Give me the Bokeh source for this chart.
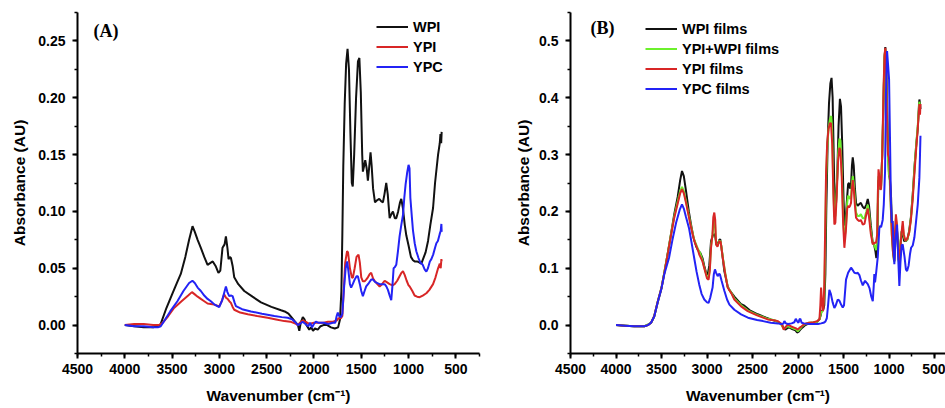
from bokeh.plotting import figure
from bokeh.models import Range1d, FixedTicker, NumeralTickFormatter, Legend, LegendItem, Label
from bokeh.layouts import row
from bokeh.embed import file_html
from bokeh.resources import INLINE

# ---------------- Panel (A): powders, (wavenumber, absorbance) ----------------
a_wpi = [(4000, 0.000), (3900, -0.001), (3800, -0.002), (3700, -0.002), (3650, -0.001), (3620, 0.001),
         (3560, 0.015), (3500, 0.027), (3450, 0.037), (3408, 0.045), (3360, 0.060), (3320, 0.075),
         (3284, 0.087), (3260, 0.082), (3230, 0.075), (3196, 0.068), (3160, 0.060), (3125, 0.053),
         (3090, 0.055), (3070, 0.056), (3040, 0.052), (3010, 0.046), (2990, 0.048), (2967, 0.068),
         (2945, 0.071), (2931, 0.078), (2915, 0.068), (2903, 0.058), (2890, 0.060), (2878, 0.059),
         (2860, 0.052), (2843, 0.042), (2800, 0.036), (2737, 0.030), (2650, 0.025), (2560, 0.020),
         (2450, 0.016), (2348, 0.013), (2310, 0.012), (2270, 0.010), (2230, 0.006), (2190, 0.002),
         (2170, 0.000), (2155, -0.005), (2140, 0.002), (2118, 0.007), (2100, 0.005), (2080, 0.000),
         (2050, -0.004), (2030, -0.002), (2010, -0.005), (1990, -0.003), (1960, -0.004), (1930, -0.001),
         (1900, 0.000), (1860, 0.000), (1820, -0.002), (1780, -0.003), (1745, -0.002), (1725, 0.005),
         (1710, 0.030), (1700, 0.080), (1690, 0.140), (1675, 0.195), (1660, 0.230), (1645, 0.243),
         (1630, 0.225), (1615, 0.170), (1600, 0.125), (1590, 0.122), (1575, 0.150), (1555, 0.200),
         (1535, 0.232), (1520, 0.235), (1505, 0.205), (1490, 0.150), (1483, 0.135), (1470, 0.140),
         (1458, 0.145), (1443, 0.138), (1430, 0.127), (1415, 0.140), (1402, 0.152), (1390, 0.140),
         (1375, 0.120), (1355, 0.108), (1330, 0.110), (1310, 0.111), (1290, 0.109), (1271, 0.108),
         (1255, 0.115), (1236, 0.125), (1220, 0.115), (1200, 0.094), (1185, 0.097), (1165, 0.100),
         (1145, 0.094), (1130, 0.094), (1110, 0.100), (1090, 0.108), (1077, 0.111), (1060, 0.103),
         (1040, 0.088), (1024, 0.079), (1000, 0.070), (975, 0.060), (953, 0.057), (936, 0.056),
         (910, 0.056), (883, 0.055), (865, 0.054), (847, 0.058), (820, 0.064), (794, 0.074),
         (770, 0.088), (741, 0.103), (720, 0.125), (706, 0.136), (688, 0.150), (670, 0.160),
         (663, 0.168), (655, 0.160), (650, 0.170)]

a_ypi = [(4000, 0.000), (3900, 0.001), (3800, 0.001), (3700, 0.000), (3640, 0.000), (3600, 0.002),
         (3540, 0.008), (3479, 0.015), (3400, 0.021), (3330, 0.026), (3290, 0.029), (3260, 0.027),
         (3230, 0.025), (3196, 0.023), (3160, 0.021), (3125, 0.019), (3090, 0.0185), (3055, 0.018),
         (3020, 0.017), (3002, 0.0165), (2975, 0.021), (2949, 0.027), (2930, 0.024), (2913, 0.023),
         (2895, 0.021), (2878, 0.0195), (2860, 0.016), (2843, 0.0135), (2780, 0.011), (2700, 0.0095),
         (2600, 0.008), (2490, 0.0065), (2400, 0.005), (2313, 0.0035), (2250, 0.003), (2190, 0.001),
         (2170, 0.000), (2150, 0.002), (2120, 0.004), (2090, 0.003), (2050, 0.001), (2000, 0.002),
         (1950, 0.002), (1900, 0.002), (1850, 0.003), (1800, 0.003), (1760, 0.004), (1740, 0.006),
         (1715, 0.006), (1700, 0.008), (1685, 0.030), (1670, 0.055), (1650, 0.065), (1640, 0.064),
         (1620, 0.050), (1600, 0.042), (1589, 0.0415), (1570, 0.050), (1550, 0.060), (1529, 0.062),
         (1515, 0.055), (1500, 0.042), (1483, 0.0385), (1465, 0.0385), (1448, 0.040), (1430, 0.042),
         (1410, 0.045), (1395, 0.046), (1375, 0.041), (1359, 0.039), (1330, 0.036), (1306, 0.034),
         (1280, 0.036), (1253, 0.039), (1235, 0.038), (1200, 0.036), (1170, 0.035), (1147, 0.036),
         (1120, 0.039), (1095, 0.043), (1075, 0.046), (1059, 0.0475), (1040, 0.044), (1020, 0.039),
         (1000, 0.035), (988, 0.034), (960, 0.030), (936, 0.026), (910, 0.025), (883, 0.0245),
         (850, 0.026), (812, 0.028), (780, 0.031), (741, 0.036), (715, 0.042), (688, 0.050),
         (670, 0.054), (660, 0.050), (653, 0.058), (650, 0.056)]

a_ypc = [(4000, 0.000), (3900, -0.001), (3800, -0.001), (3700, -0.002), (3650, -0.002), (3620, -0.001),
         (3580, 0.004), (3520, 0.012), (3444, 0.021), (3380, 0.030), (3320, 0.037), (3285, 0.039),
         (3260, 0.037), (3230, 0.033), (3196, 0.030), (3160, 0.026), (3125, 0.023), (3090, 0.021),
         (3050, 0.018), (3002, 0.0158), (2970, 0.022), (2931, 0.034), (2915, 0.029), (2896, 0.0255),
         (2878, 0.026), (2860, 0.0255), (2840, 0.020), (2825, 0.0167), (2760, 0.014), (2666, 0.012),
         (2550, 0.010), (2419, 0.008), (2340, 0.007), (2278, 0.0065), (2230, 0.005), (2190, 0.002),
         (2170, 0.000), (2150, 0.001), (2120, 0.003), (2090, 0.001), (2060, -0.001), (2040, 0.002),
         (2020, -0.002), (2000, 0.001), (1980, 0.003), (1950, 0.002), (1900, 0.002), (1850, 0.001),
         (1800, 0.002), (1775, 0.002), (1760, 0.008), (1748, 0.011), (1735, 0.008), (1715, 0.007),
         (1700, 0.010), (1685, 0.030), (1665, 0.050), (1649, 0.056), (1635, 0.047), (1620, 0.036),
         (1607, 0.033), (1590, 0.036), (1570, 0.040), (1550, 0.043), (1536, 0.043), (1515, 0.036),
         (1500, 0.030), (1483, 0.0255), (1465, 0.030), (1448, 0.034), (1420, 0.037), (1395, 0.040),
         (1375, 0.040), (1355, 0.038), (1330, 0.037), (1306, 0.036), (1280, 0.036), (1253, 0.036),
         (1235, 0.034), (1218, 0.031), (1200, 0.026), (1183, 0.022), (1170, 0.035), (1158, 0.050),
         (1145, 0.051), (1130, 0.053), (1112, 0.065), (1095, 0.078), (1077, 0.088), (1059, 0.097),
         (1045, 0.112), (1031, 0.124), (1015, 0.134), (1000, 0.141), (990, 0.138), (981, 0.112),
         (965, 0.095), (953, 0.083), (935, 0.072), (918, 0.065), (895, 0.059), (875, 0.055),
         (850, 0.053), (830, 0.049), (812, 0.047), (795, 0.050), (775, 0.056), (759, 0.058),
         (740, 0.062), (720, 0.068), (706, 0.072), (690, 0.074), (671, 0.080), (660, 0.083),
         (653, 0.089), (650, 0.082)]

# ---------------- Panel (B): films ----------------
b_wpi = [(4000, 0.000), (3900, -0.001), (3800, -0.002), (3689, -0.002), (3650, 0.000), (3615, 0.004),
         (3580, 0.015), (3542, 0.040), (3500, 0.065), (3469, 0.092), (3430, 0.128), (3396, 0.160),
         (3360, 0.195), (3322, 0.226), (3295, 0.255), (3275, 0.271), (3255, 0.262), (3231, 0.236),
         (3200, 0.200), (3176, 0.177), (3150, 0.155), (3121, 0.139), (3100, 0.132), (3074, 0.127),
         (3050, 0.118), (3030, 0.104), (3010, 0.092), (2992, 0.089), (2975, 0.105), (2956, 0.148),
         (2935, 0.158), (2915, 0.160), (2895, 0.142), (2882, 0.142), (2865, 0.150), (2855, 0.151),
         (2840, 0.135), (2810, 0.095), (2773, 0.068), (2755, 0.062), (2700, 0.050), (2626, 0.037),
         (2590, 0.034), (2530, 0.026), (2443, 0.019), (2350, 0.013), (2300, 0.010), (2230, 0.006),
         (2187, 0.002), (2160, -0.004), (2140, -0.008), (2125, -0.006), (2100, -0.004), (2077, -0.006),
         (2050, -0.008), (2030, -0.009), (2011, -0.013), (1995, -0.012), (1975, -0.008), (1950, -0.004),
         (1920, 0.000), (1880, 0.003), (1830, 0.004), (1790, 0.006), (1765, 0.010), (1750, 0.018),
         (1740, 0.025), (1725, 0.026), (1712, 0.035), (1700, 0.090), (1690, 0.200), (1675, 0.320),
         (1660, 0.390), (1645, 0.425), (1632, 0.435), (1620, 0.400), (1605, 0.270), (1595, 0.210),
         (1585, 0.205), (1570, 0.260), (1555, 0.350), (1540, 0.398), (1528, 0.385), (1515, 0.320),
         (1500, 0.220), (1490, 0.180), (1480, 0.175), (1465, 0.215), (1450, 0.248), (1440, 0.250),
         (1428, 0.240), (1418, 0.245), (1408, 0.280), (1399, 0.295), (1388, 0.280), (1375, 0.240),
         (1363, 0.215), (1345, 0.210), (1326, 0.213), (1310, 0.215), (1289, 0.208), (1270, 0.205),
         (1250, 0.212), (1234, 0.222), (1220, 0.210), (1200, 0.175), (1180, 0.145), (1165, 0.142),
         (1150, 0.130), (1140, 0.118), (1130, 0.135), (1118, 0.255), (1108, 0.245), (1098, 0.240),
         (1088, 0.245), (1075, 0.300), (1060, 0.400), (1050, 0.470), (1041, 0.489), (1032, 0.460),
         (1020, 0.380), (1010, 0.300), (1000, 0.265), (990, 0.255), (978, 0.225), (965, 0.160),
         (955, 0.130), (942, 0.112), (932, 0.150), (923, 0.180), (912, 0.165), (900, 0.140),
         (887, 0.110), (875, 0.140), (862, 0.165), (850, 0.160), (835, 0.148), (815, 0.148),
         (800, 0.150), (780, 0.165), (760, 0.190), (740, 0.230), (720, 0.280), (700, 0.320),
         (685, 0.345), (672, 0.385), (667, 0.397), (660, 0.390), (655, 0.380)]

b_mix = [(4000, 0.000), (3800, -0.002), (3689, -0.002), (3615, 0.004), (3580, 0.016), (3542, 0.041),
         (3500, 0.066), (3430, 0.128), (3396, 0.160), (3360, 0.191), (3322, 0.218), (3295, 0.236),
         (3275, 0.243), (3255, 0.236), (3231, 0.218), (3200, 0.193), (3176, 0.174), (3140, 0.150),
         (3100, 0.134), (3074, 0.126), (3050, 0.114), (3030, 0.101), (3000, 0.085), (2983, 0.083),
         (2970, 0.098), (2956, 0.140), (2940, 0.158), (2925, 0.185), (2915, 0.188), (2901, 0.142),
         (2885, 0.140), (2865, 0.149), (2850, 0.147), (2827, 0.120), (2800, 0.092), (2773, 0.067),
         (2730, 0.056), (2700, 0.047), (2626, 0.035), (2553, 0.026), (2450, 0.018), (2333, 0.011),
         (2250, 0.008), (2187, 0.002), (2157, -0.007), (2140, -0.005), (2113, -0.002), (2080, -0.004),
         (2050, -0.006), (2020, -0.008), (2003, -0.011), (1985, -0.008), (1960, -0.003), (1930, 0.001),
         (1880, 0.004), (1830, 0.005), (1790, 0.006), (1765, 0.010), (1747, 0.022), (1729, 0.025),
         (1712, 0.050), (1703, 0.130), (1692, 0.250), (1680, 0.310), (1665, 0.345), (1650, 0.362),
         (1635, 0.368), (1625, 0.340), (1612, 0.240), (1601, 0.190), (1590, 0.192), (1575, 0.240),
         (1560, 0.300), (1545, 0.328), (1535, 0.325), (1520, 0.275), (1505, 0.195), (1491, 0.150),
         (1475, 0.170), (1460, 0.215), (1450, 0.228), (1440, 0.225), (1428, 0.222), (1418, 0.228),
         (1408, 0.250), (1399, 0.262), (1388, 0.250), (1375, 0.222), (1363, 0.198), (1345, 0.192),
         (1326, 0.192), (1310, 0.195), (1289, 0.188), (1270, 0.188), (1250, 0.200), (1234, 0.212),
         (1220, 0.198), (1200, 0.166), (1179, 0.144), (1160, 0.140), (1143, 0.132), (1130, 0.148),
         (1122, 0.235), (1116, 0.262), (1105, 0.250), (1095, 0.238), (1088, 0.242), (1075, 0.300),
         (1060, 0.410), (1050, 0.472), (1041, 0.485), (1032, 0.455), (1022, 0.370), (1012, 0.295),
         (1003, 0.265), (995, 0.262), (985, 0.225), (970, 0.160), (958, 0.130), (945, 0.112),
         (935, 0.155), (925, 0.188), (915, 0.172), (905, 0.142), (895, 0.112), (885, 0.128),
         (870, 0.155), (850, 0.175), (838, 0.155), (820, 0.148), (800, 0.150), (780, 0.162),
         (760, 0.188), (740, 0.228), (720, 0.278), (700, 0.322), (685, 0.350), (672, 0.382),
         (667, 0.393), (660, 0.385), (655, 0.385)]

b_ypi = [(4000, 0.000), (3900, -0.001), (3800, -0.002), (3689, -0.002), (3650, 0.000), (3615, 0.004),
         (3580, 0.016), (3542, 0.041), (3500, 0.066), (3469, 0.092), (3430, 0.127), (3396, 0.158),
         (3360, 0.189), (3322, 0.214), (3295, 0.232), (3275, 0.239), (3255, 0.232), (3231, 0.215),
         (3212, 0.200), (3176, 0.172), (3140, 0.148), (3100, 0.132), (3085, 0.124), (3050, 0.112),
         (3030, 0.100), (3000, 0.082), (2983, 0.080), (2970, 0.095), (2956, 0.136), (2940, 0.160),
         (2931, 0.190), (2920, 0.198), (2910, 0.185), (2901, 0.142), (2885, 0.138), (2865, 0.148),
         (2850, 0.146), (2827, 0.118), (2800, 0.090), (2773, 0.066), (2730, 0.055), (2700, 0.045),
         (2626, 0.033), (2553, 0.0246), (2450, 0.017), (2333, 0.010), (2250, 0.008), (2223, 0.007),
         (2180, 0.002), (2157, -0.008), (2140, -0.004), (2113, 0.001), (2080, -0.002), (2050, -0.004),
         (2020, -0.006), (2003, -0.008), (1985, -0.005), (1960, -0.002), (1930, 0.002), (1880, 0.004),
         (1830, 0.005), (1790, 0.007), (1765, 0.010), (1755, 0.035), (1747, 0.066), (1738, 0.045),
         (1729, 0.025), (1720, 0.030), (1712, 0.070), (1703, 0.160), (1692, 0.270), (1680, 0.320),
         (1665, 0.345), (1650, 0.355), (1638, 0.355), (1625, 0.320), (1612, 0.230), (1601, 0.177),
         (1590, 0.180), (1575, 0.230), (1560, 0.290), (1545, 0.312), (1535, 0.308), (1520, 0.260),
         (1505, 0.180), (1491, 0.136), (1475, 0.165), (1460, 0.205), (1450, 0.210), (1440, 0.207),
         (1428, 0.210), (1418, 0.215), (1408, 0.240), (1399, 0.255), (1388, 0.240), (1375, 0.210),
         (1363, 0.189), (1345, 0.185), (1326, 0.183), (1310, 0.185), (1289, 0.177), (1270, 0.178),
         (1250, 0.195), (1234, 0.205), (1220, 0.190), (1200, 0.160), (1179, 0.142), (1160, 0.145),
         (1143, 0.145), (1130, 0.160), (1122, 0.240), (1116, 0.274), (1105, 0.260), (1095, 0.238),
         (1088, 0.240), (1075, 0.300), (1060, 0.420), (1050, 0.475), (1041, 0.488), (1032, 0.450),
         (1022, 0.360), (1012, 0.300), (1003, 0.295), (995, 0.280), (985, 0.230), (970, 0.160),
         (958, 0.130), (945, 0.113), (935, 0.160), (925, 0.195), (915, 0.180), (905, 0.145),
         (895, 0.115), (887, 0.112), (870, 0.150), (850, 0.183), (838, 0.160), (820, 0.148),
         (800, 0.152), (780, 0.162), (760, 0.185), (740, 0.222), (720, 0.270), (700, 0.315),
         (685, 0.345), (672, 0.378), (667, 0.389), (660, 0.370), (655, 0.389)]

b_ypc = [(4000, 0.000), (3900, -0.001), (3800, -0.002), (3689, -0.002), (3650, 0.000), (3615, 0.004),
         (3580, 0.015), (3542, 0.040), (3500, 0.065), (3469, 0.090), (3418, 0.118), (3380, 0.150),
         (3340, 0.180), (3300, 0.203), (3275, 0.2125), (3255, 0.205), (3231, 0.190), (3197, 0.170),
         (3170, 0.145), (3141, 0.118), (3115, 0.094), (3086, 0.0716), (3060, 0.055), (3030, 0.045),
         (3000, 0.040), (2983, 0.039), (2965, 0.048), (2939, 0.066), (2925, 0.090), (2913, 0.098),
         (2900, 0.092), (2883, 0.086), (2870, 0.090), (2858, 0.089), (2840, 0.078), (2809, 0.060),
         (2780, 0.045), (2754, 0.036), (2700, 0.027), (2626, 0.0188), (2550, 0.013), (2450, 0.009),
         (2385, 0.007), (2300, 0.004), (2220, 0.003), (2187, 0.002), (2163, 0.0023), (2150, 0.007),
         (2134, 0.003), (2110, 0.002), (2070, 0.003), (2041, 0.005), (2025, 0.011), (2011, 0.007),
         (1995, 0.004), (1985, 0.010), (1975, 0.011), (1960, 0.004), (1934, 0.003), (1880, 0.002),
         (1830, 0.002), (1780, 0.002), (1747, 0.003), (1720, 0.004), (1700, 0.006), (1684, 0.012),
         (1670, 0.035), (1656, 0.062), (1640, 0.055), (1620, 0.040), (1601, 0.030), (1585, 0.035),
         (1564, 0.045), (1546, 0.043), (1527, 0.036), (1509, 0.031), (1495, 0.035), (1473, 0.080),
         (1450, 0.092), (1418, 0.101), (1400, 0.097), (1381, 0.092), (1360, 0.091), (1344, 0.092),
         (1326, 0.088), (1308, 0.078), (1289, 0.070), (1264, 0.078), (1250, 0.075), (1234, 0.072),
         (1215, 0.065), (1195, 0.050), (1179, 0.042), (1168, 0.070), (1162, 0.090), (1154, 0.075),
         (1140, 0.095), (1124, 0.120), (1107, 0.170), (1095, 0.175), (1088, 0.172), (1070, 0.185),
         (1058, 0.2125), (1044, 0.271), (1035, 0.400), (1022, 0.482), (1012, 0.460), (1000, 0.433),
         (990, 0.330), (980, 0.220), (970, 0.180), (959, 0.183), (950, 0.130), (942, 0.107),
         (930, 0.150), (912, 0.177), (900, 0.120), (887, 0.069), (875, 0.110), (862, 0.140),
         (850, 0.142), (830, 0.120), (815, 0.098), (802, 0.095), (785, 0.105), (770, 0.125),
         (758, 0.136), (740, 0.140), (722, 0.154), (705, 0.180), (685, 0.212), (667, 0.259),
         (660, 0.300), (655, 0.333)]

a_names = ["WPI", "YPI", "YPC"]
b_names = ["WPI films", "YPI+WPI films", "YPI films", "YPC films"]
x_major = [4500, 4000, 3500, 3000, 2500, 2000, 1500, 1000, 500]
x_minor = [4500 - 250 * i for i in range(18)]
a_y_major = [0.0, 0.05, 0.10, 0.15, 0.20, 0.25]
a_y_minor = [-0.025 + 0.025 * i for i in range(13)]
b_y_major = [0.0, 0.1, 0.2, 0.3, 0.4, 0.5]
b_y_minor = [-0.05 + 0.05 * i for i in range(13)]

BLACK = "#111111"
GREEN = "#6cf02c"
RED = "#d82626"
BLUE = "#2323f5"
SANS = "Liberation Sans"
XLABEL = "Wavenumber (cm\u207b\u00b9)"
YLABEL = "Absorbance (AU)"
HEIGHT = 408


def make_fig(width, x_end, y_lo, y_hi, border_left, border_right, y_major, y_minor, fmt, ylab_standoff):
    p = figure(width=width, height=HEIGHT, x_range=Range1d(4500, x_end), y_range=Range1d(y_lo, y_hi),
               output_backend="svg", toolbar_location=None,
               min_border_left=border_left, min_border_right=border_right,
               min_border_top=12, min_border_bottom=HEIGHT - 12 - 341)
    p.outline_line_color = None
    p.xgrid.visible = False
    p.ygrid.visible = False
    p.background_fill_color = "white"
    p.border_fill_color = "white"
    p.xaxis.ticker = FixedTicker(ticks=x_major, minor_ticks=x_minor)
    p.yaxis.ticker = FixedTicker(ticks=y_major, minor_ticks=y_minor)
    p.yaxis.formatter = NumeralTickFormatter(format=fmt)
    for ax in (p.xaxis[0], p.yaxis[0]):
        ax.axis_line_width = 2
        ax.axis_line_color = "black"
        ax.major_tick_line_width = 2
        ax.minor_tick_line_width = 1.5
        ax.major_tick_in = 0
        ax.major_tick_out = 5
        ax.minor_tick_in = 0
        ax.minor_tick_out = 3
        ax.major_label_text_font = SANS
        ax.major_label_text_font_style = "bold"
        ax.major_label_text_font_size = "14px"
        ax.major_label_text_color = "black"
        ax.axis_label_text_font = SANS
        ax.axis_label_text_font_style = "bold"
        ax.axis_label_text_font_size = "15.5px"
        ax.axis_label_text_color = "black"
    p.xaxis.major_label_standoff = 5
    p.xaxis.axis_label_standoff = 10
    p.xaxis.axis_label = XLABEL
    p.yaxis.major_label_standoff = 7
    p.yaxis.axis_label_standoff = ylab_standoff
    p.yaxis.axis_label = YLABEL
    return p


def add_legend(p, items, x, y):
    leg = Legend(items=items, location=(x, y), padding=0, margin=0,
                 border_line_color=None, background_fill_alpha=0,
                 glyph_width=32, glyph_height=19, label_height=19, spacing=1, label_standoff=5,
                 label_text_font=SANS, label_text_font_style="bold", label_text_font_size="14.5px",
                 label_text_color="black")
    p.add_layout(leg)


# ---- panel A ----
pa = make_fig(482, 250, -0.025, 0.275, 77, 3, a_y_major, a_y_minor, "0.00", 7)
ra = []
for pts, col in ((a_wpi, BLACK), (a_ypi, RED), (a_ypc, BLUE)):
    xs = [q[0] for q in pts]
    ys = [q[1] for q in pts]
    ra.append(pa.line(xs, ys, line_color=col, line_width=2))
add_legend(pa, [LegendItem(label=n, renderers=[r]) for n, r in zip(a_names, ra)], 299, 277)
pa.add_layout(Label(x=16, y=323, x_units="screen", y_units="screen", text="(A)",
                    text_font="Liberation Serif", text_font_style="bold", text_font_size="18px",
                    text_baseline="middle", text_align="left", text_color="black"))

# ---- panel B ----
pb = make_fig(463, 380, -0.05, 0.55, 88, 0, b_y_major, b_y_minor, "0.0", 4)
rb = []
for pts, col in ((b_wpi, BLACK), (b_mix, GREEN), (b_ypi, RED), (b_ypc, BLUE)):
    xs = [q[0] for q in pts]
    ys = [q[1] for q in pts]
    rb.append(pb.line(xs, ys, line_color=col, line_width=2))
add_legend(pb, [LegendItem(label=n, renderers=[r]) for n, r in zip(b_names, rb)], 75, 255)
pb.add_layout(Label(x=20, y=326, x_units="screen", y_units="screen", text="(B)",
                    text_font="Liberation Serif", text_font_style="bold", text_font_size="18px",
                    text_baseline="middle", text_align="left", text_color="black"))

layout = row(pa, pb)
open("out.html", "w").write(file_html(layout, INLINE))
